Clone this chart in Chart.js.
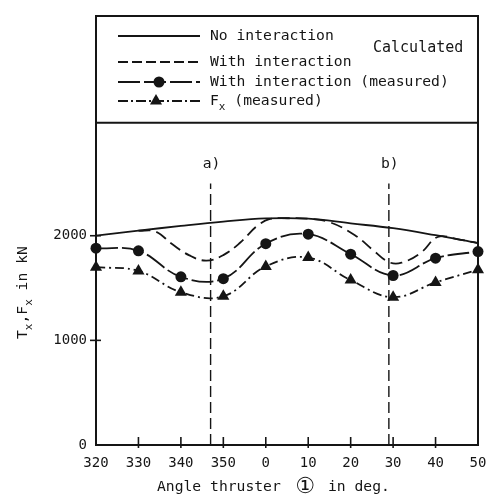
<!DOCTYPE html>
<html>
<head>
<meta charset="utf-8">
<script src="https://cdn.jsdelivr.net/npm/chart.js@4.4.1/dist/chart.umd.min.js"></script>
<style>
  html, body { margin: 0; padding: 0; background: #ffffff; }
  #c { display: block; }
</style>
</head>
<body>
<canvas id="c" width="486" height="501"></canvas>
<script>
// ---- data (angles unwrapped: 360 = 0 deg, 410 = 50 deg) ----
const measuredAngles = [320, 330, 340, 350, 360, 370, 380, 390, 400, 410];
const noInteraction = [2002, 2048, 2094, 2135, 2165, 2163, 2118, 2072, 2005, 1930];
const calcAngles = [330, 334, 338, 342, 346, 350, 354, 358, 361, 365, 370, 375, 381, 385.5, 389, 392, 396.5, 400.5, 405, 410];
const withInteractionCalc = [2048, 2040, 1918, 1812, 1762, 1815, 1935, 2095, 2160, 2167, 2163, 2130, 2005, 1855, 1748, 1742, 1836, 1988, 1968, 1930];
const withInteractionMeasured = [1881, 1856, 1607, 1590, 1924, 2015, 1824, 1620, 1785, 1849];
const fxMeasured = [1699, 1664, 1461, 1421, 1707, 1791, 1576, 1413, 1554, 1674];
const xTickAngles = [320, 330, 340, 350, 360, 370, 380, 390, 400, 410];
const yTickValues = [0, 1000, 2000];
const markerAngles = [347, 389];
const markerNames = ['a)', 'b)'];
const markerTop = 2500;
const markerLabelLevel = 2680;
const legendDividerLevel = 3080;
const yMax = 4100;
const legendNames = ['No interaction', 'With interaction', 'With interaction (measured)', 'F', 'Calculated'];

const INK = '#151515';
const MONO = '"DejaVu Sans Mono", "Liberation Mono", monospace';

const pts = (xs, ys) => xs.map((x, i) => ({ x: x, y: ys[i] }));

const datasets = [
  { label: legendNames[0], data: pts(measuredAngles, noInteraction), borderColor: INK, borderWidth: 1.8,
    pointRadius: 0, tension: 0.4, clip: false },
  { label: legendNames[1], data: pts(calcAngles, withInteractionCalc), borderColor: INK, borderWidth: 1.8,
    borderDash: [12, 6], pointRadius: 0, tension: 0.4, clip: false },
  { label: legendNames[2], data: pts(measuredAngles, withInteractionMeasured), borderColor: INK, borderWidth: 1.8,
    borderDash: [22, 4], pointRadius: 5.5, pointStyle: 'circle', pointBackgroundColor: INK, pointBorderColor: INK,
    pointBorderWidth: 0, tension: 0.4, clip: false },
  { label: 'Fx (measured)', data: pts(measuredAngles, fxMeasured), borderColor: INK, borderWidth: 1.8,
    borderDash: [9, 4, 2, 4], pointRadius: 7, pointStyle: 'triangle', pointBackgroundColor: INK, pointBorderColor: INK,
    pointBorderWidth: 0, tension: 0.4, clip: false }
];
markerAngles.forEach((a, i) => {
  datasets.push({ label: markerNames[i], data: [{ x: a, y: 0 }, { x: a, y: markerTop }], borderColor: INK,
    borderWidth: 1.4, borderDash: [11, 5], pointRadius: 0, tension: 0, clip: false });
});

const decor = {
  id: 'decor',
  afterDatasetsDraw(chart) {
    const ctx = chart.ctx;
    const ca = chart.chartArea;
    const xs = chart.scales.x, ys = chart.scales.y;
    ctx.save();
    ctx.strokeStyle = INK;
    ctx.fillStyle = INK;
    // frame
    ctx.lineWidth = 2;
    ctx.setLineDash([]);
    ctx.strokeRect(ca.left, ca.top, ca.right - ca.left, ca.bottom - ca.top);
    // legend divider
    const dy = ys.getPixelForValue(legendDividerLevel);
    ctx.beginPath(); ctx.moveTo(ca.left, dy); ctx.lineTo(ca.right, dy); ctx.stroke();
    // tick marks
    ctx.lineWidth = 1.6;
    yTickValues.forEach(v => {
      if (v === 0) return;
      const y = ys.getPixelForValue(v);
      ctx.beginPath(); ctx.moveTo(ca.left - 6, y); ctx.lineTo(ca.left + 5, y); ctx.stroke();
    });
    xTickAngles.forEach((a, i) => {
      if (i === 0 || i === xTickAngles.length - 1) return;
      const x = xs.getPixelForValue(a);
      ctx.beginPath(); ctx.moveTo(x, ca.bottom - 8); ctx.lineTo(x, ca.bottom + 3); ctx.stroke();
    });
    // marker labels a) b)
    ctx.font = '14.7px ' + MONO;
    ctx.textAlign = 'center';
    ctx.textBaseline = 'middle';
    markerAngles.forEach((a, i) => {
      ctx.fillText(markerNames[i], xs.getPixelForValue(a) + 1, ys.getPixelForValue(markerLabelLevel));
    });
    // legend
    const lx0 = 118, lx1 = 200, tx = 210;
    const rows = [36, 62, 82, 101];
    ctx.lineWidth = 1.8;
    const seg = (y, dash) => { ctx.setLineDash(dash); ctx.beginPath(); ctx.moveTo(lx0, y); ctx.lineTo(lx1, y); ctx.stroke(); };
    seg(rows[0], []);
    seg(rows[1], [10, 4]);
    seg(rows[2], [22, 4]);
    seg(rows[3], [10, 3, 2, 3]);
    ctx.setLineDash([]);
    ctx.beginPath(); ctx.arc(159, rows[2], 5.5, 0, Math.PI * 2); ctx.fill();
    const tr = 7, tcx = 156, tcy = rows[3];
    ctx.beginPath();
    ctx.moveTo(tcx, tcy - tr);
    ctx.lineTo(tcx + tr * Math.sin(Math.PI * 2 / 3), tcy - tr * Math.cos(Math.PI * 2 / 3));
    ctx.lineTo(tcx + tr * Math.sin(Math.PI * 4 / 3), tcy - tr * Math.cos(Math.PI * 4 / 3));
    ctx.closePath(); ctx.fill();
    ctx.textAlign = 'left';
    ctx.textBaseline = 'middle';
    ctx.font = '14.7px ' + MONO;
    ctx.fillText(legendNames[0], tx, rows[0]);
    ctx.fillText(legendNames[1], tx, rows[1]);
    ctx.fillText(legendNames[2], tx, rows[2]);
    ctx.fillText('F', tx, rows[3]);
    let w = ctx.measureText('F').width;
    ctx.font = '11px ' + MONO;
    ctx.fillText('x', tx + w, rows[3] + 6);
    w += ctx.measureText('x').width;
    ctx.font = '14.7px ' + MONO;
    ctx.fillText(' (measured)', tx + w, rows[3]);
    ctx.font = '15px ' + MONO;
    ctx.fillText(legendNames[4], 373, 48);
    // y-axis title
    ctx.save();
    ctx.translate(27, 294);
    ctx.rotate(-Math.PI / 2);
    ctx.textBaseline = 'alphabetic';
    ctx.textAlign = 'left';
    let px = -45;
    const big = '14.7px ' + MONO, small = '11px ' + MONO;
    const parts = [['T', big, 0], ['x', small, 5], [',F', big, 0], ['x', small, 5], [' in kN', big, 0]];
    parts.forEach(p => { ctx.font = p[1]; ctx.fillText(p[0], px, p[2]); px += ctx.measureText(p[0]).width; });
    ctx.restore();
    // x-axis title
    ctx.textBaseline = 'middle';
    ctx.textAlign = 'left';
    ctx.font = '14.7px ' + MONO;
    ctx.fillText('Angle thruster', 157, 487);
    ctx.textAlign = 'center';
    ctx.font = '22px "DejaVu Sans", "Noto Sans CJK SC", sans-serif';
    ctx.fillText('\u2460', 305, 487);
    ctx.textAlign = 'left';
    ctx.font = '14.7px ' + MONO;
    ctx.fillText('in deg.', 328, 487);
    ctx.restore();
  }
};

new Chart(document.getElementById('c'), {
  type: 'line',
  data: { datasets: datasets },
  options: {
    responsive: false,
    animation: false,
    layout: { padding: { left: 0, right: 8, top: 16, bottom: 0 } },
    plugins: { legend: { display: false }, tooltip: { enabled: false }, title: { display: false } },
    scales: {
      x: {
        type: 'linear', min: 320, max: 410,
        afterBuildTicks: s => { s.ticks = xTickAngles.map(v => ({ value: v })); },
        afterFit: s => { s.height = 56; s.paddingLeft = 0; s.paddingRight = 0; },
        grid: { display: false, drawTicks: false },
        border: { display: false },
        ticks: { padding: 10, color: INK, font: { family: MONO, size: 14 },
          callback: v => String(v % 360), maxRotation: 0, autoSkip: false }
      },
      y: {
        type: 'linear', min: 0, max: yMax,
        afterBuildTicks: s => { s.ticks = yTickValues.map(v => ({ value: v })); },
        afterFit: s => { s.width = 96; s.paddingTop = 0; s.paddingBottom = 0; },
        grid: { display: false, drawTicks: false },
        border: { display: false },
        ticks: { padding: 9, color: INK, font: { family: MONO, size: 14 }, callback: v => String(v) }
      }
    }
  },
  plugins: [decor]
});
</script>
</body>
</html>
